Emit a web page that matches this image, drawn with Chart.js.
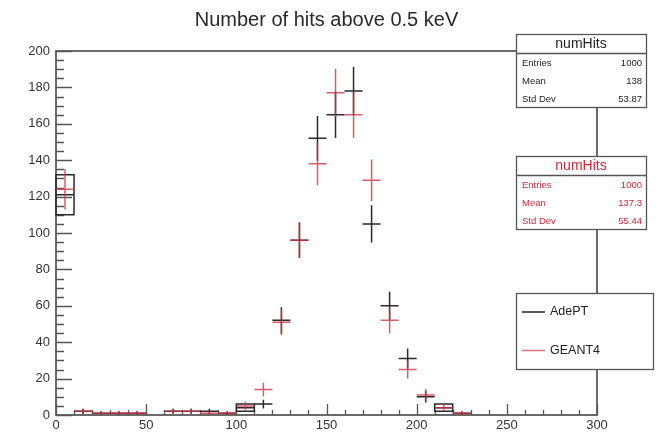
<!DOCTYPE html>
<html>
<head>
<meta charset="utf-8">
<script src="https://cdn.jsdelivr.net/npm/chart.js@4/dist/chart.umd.min.js"></script>
<style>
html,body{margin:0;padding:0;background:#fff;}
#wrap{width:664px;height:433px;}
</style>
</head>
<body>
<div id="wrap"><canvas id="c" width="664" height="433"></canvas></div>
<script>
// ---- data (bins of width 10 from 0 to 300; lower edges) ----
const binLow = [0,10,20,30,40,50,60,70,80,90,100,110,120,130,140,150,160,170,180,190,200,210,220,230,240,250,260,270,280,290];
const adeptValues = [121,2,1,1,1,0,2,2,2,1,4,6,52,96,152,165,178,105,60,31,10,4,1,0,0,0,0,0,0,0];
const adeptErrors = [11,1.4,1,1,1,0,1.4,1.4,1.4,1,2,2.4,7.2,9.8,12.3,12.8,13.3,10.2,7.7,5.6,3.2,2,1,0,0,0,0,0,0,0];
const geantValues = [124,2,1,1,1,0,2,2,1,1,5,14,51,96,138,177,165,129,52,25,11,4,1,0,0,0,0,0,0,0];
const geantErrors = [11.1,1.4,1,1,1,0,1.4,1.4,1,1,2.2,3.7,7.1,9.8,11.7,13.3,12.8,11.4,7.2,5,3.3,2,1,0,0,0,0,0,0,0];
const adeptBoxBins = [0,100,210];   // bins where AdePT shows as an error box
const binWidth = 10;
const yTicks = [0,20,40,60,80,100,120,140,160,180,200];
const xTicks = [0,50,100,150,200,250,300];

const statsAdept = {title:'numHits', rows:[['Entries','1000'],['Mean','138'],['Std Dev','53.87']]};
const statsGeant = {title:'numHits', rows:[['Entries','1000'],['Mean','137.3'],['Std Dev','55.44']]};
const legendItems = [['AdePT','#222'],['GEANT4','#e07080']];

const BLACK = '#2a2a2a';
const RED = 'rgba(210,50,70,0.8)';
const FONT = '"Liberation Sans", Arial, Helvetica, sans-serif';

function mk(values, errors){
  const pts = [];
  values.forEach((v,i)=>{ if(v>0) pts.push({x: binLow[i]+binWidth/2, y: v, e: errors[i], i}); });
  return pts;
}

const decor = {
  id:'decor',
  afterLayout(chart){
    const t = chart.titleBlock, a = chart.chartArea;
    if(t){ t.left = a.left; t.right = a.right; t.width = a.right - a.left; }
  },
  beforeDatasetsDraw(chart){
    const {ctx, chartArea:a, scales:{x,y}} = chart;
    ctx.save();
    ctx.strokeStyle = '#555';
    ctx.lineWidth = 1.3;
    ctx.beginPath();
    for(let v=0; v<=200; v+=5){
      const py = Math.round(y.getPixelForValue(v))+0.5;
      const len = (v%20===0)?16:8;
      ctx.moveTo(a.left, py); ctx.lineTo(a.left+len, py);
    }
    for(let v=0; v<=300; v+=10){
      const px = Math.round(x.getPixelForValue(v))+0.5;
      const len = (v%50===0)?11:5;
      ctx.moveTo(px, a.bottom); ctx.lineTo(px, a.bottom-len);
    }
    ctx.stroke();
    ctx.lineWidth = 1.8;
    ctx.strokeStyle = '#5a5a5a';
    ctx.strokeRect(a.left, a.top, a.right-a.left, a.bottom-a.top);
    ctx.restore();
  },
  afterDatasetsDraw(chart){
    const {ctx, scales:{x,y}} = chart;
    ctx.save();
    chart.data.datasets.forEach(ds=>{
      ctx.strokeStyle = ds.borderColor;
      ctx.lineWidth = 1.5;
      ds.data.forEach(p=>{
        const x0 = x.getPixelForValue(p.x-binWidth/2), x1 = x.getPixelForValue(p.x+binWidth/2);
        const py = y.getPixelForValue(p.y);
        const pxc = x.getPixelForValue(p.x);
        const yl = y.getPixelForValue(Math.max(0,p.y-p.e)), yh = y.getPixelForValue(p.y+p.e);
        ctx.beginPath();
        if(ds.boxBins && ds.boxBins.includes(binLow[p.i])){
          ctx.rect(x0, yh, x1-x0, yl-yh);
          ctx.moveTo(x0, py); ctx.lineTo(x1, py);
        } else {
          ctx.moveTo(x0, py); ctx.lineTo(x1, py);
          ctx.moveTo(pxc, yl); ctx.lineTo(pxc, yh);
        }
        ctx.stroke();
      });
    });
    ctx.restore();
  },
  afterDraw(chart){
    const {ctx} = chart;
    ctx.save();
    function statBox(top, s, color){
      const L=516, R=646, H=73;
      ctx.fillStyle='#fff'; ctx.fillRect(L,top,R-L,H);
      ctx.strokeStyle='#555'; ctx.lineWidth=1.3;
      ctx.strokeRect(L+0.5,top+0.5,R-L,H);
      ctx.beginPath(); ctx.moveTo(L,top+19.5); ctx.lineTo(R,top+19.5); ctx.stroke();
      ctx.fillStyle=color;
      ctx.font='14px '+FONT; ctx.textAlign='center'; ctx.textBaseline='middle';
      ctx.fillText(s.title,(L+R)/2,top+10.5);
      ctx.font='9.5px '+FONT;
      s.rows.forEach((r,k)=>{
        const yy = top+29+k*18;
        ctx.textAlign='left'; ctx.fillText(r[0],L+6,yy);
        ctx.textAlign='right'; ctx.fillText(r[1],R-4,yy);
      });
    }
    statBox(34, statsAdept, '#222');
    statBox(156, statsGeant, '#d02a35');
    const L=516,R=653,T=293,B=369;
    ctx.fillStyle='#fff'; ctx.fillRect(L,T,R-L,B-T);
    ctx.strokeStyle='#555'; ctx.lineWidth=1.3; ctx.strokeRect(L+0.5,T+0.5,R-L,B-T);
    legendItems.forEach((it,k)=>{
      const yy = 312 + k*38.5;
      ctx.strokeStyle=it[1]; ctx.lineWidth=1.5;
      ctx.beginPath(); ctx.moveTo(522,yy); ctx.lineTo(545,yy); ctx.stroke();
      ctx.fillStyle='#222'; ctx.font='12.5px '+FONT; ctx.textAlign='left'; ctx.textBaseline='middle';
      ctx.fillText(it[0],550,yy);
    });
    ctx.restore();
  }
};

new Chart(document.getElementById('c'), {
  type:'scatter',
  data:{datasets:[
    {label:'AdePT', data: mk(adeptValues, adeptErrors), borderColor: BLACK, boxBins: adeptBoxBins, pointRadius:0, showLine:false},
    {label:'GEANT4', data: mk(geantValues, geantErrors), borderColor: RED, pointRadius:0, showLine:false}
  ]},
  options:{
    responsive:false, animation:false,
    layout:{padding:{left:0,right:67,top:0,bottom:0}},
    plugins:{
      legend:{display:false}, tooltip:{enabled:false},
      title:{display:true, text:'Number of hits above 0.5 keV', color:'#2a2a2a',
        font:{family:FONT, size:20, weight:'normal'}, padding:{top:8,bottom:19}}
    },
    scales:{
      x:{type:'linear', min:0, max:300,
        afterBuildTicks(s){ s.ticks = xTicks.map(v=>({value:v})); },
        afterFit(s){ s.height = 18; },
        grid:{display:false, drawTicks:false}, border:{display:false},
        ticks:{color:'#333', padding:3, maxRotation:0, font:{family:FONT,size:13}}},
      y:{type:'linear', min:0, max:200,
        afterBuildTicks(s){ s.ticks = yTicks.map(v=>({value:v})); },
        afterFit(s){ s.width = 56; },
        grid:{display:false, drawTicks:false}, border:{display:false},
        ticks:{color:'#333', padding:6, font:{family:FONT,size:13}}}
    }
  },
  plugins:[decor]
});
</script>
</body>
</html>
